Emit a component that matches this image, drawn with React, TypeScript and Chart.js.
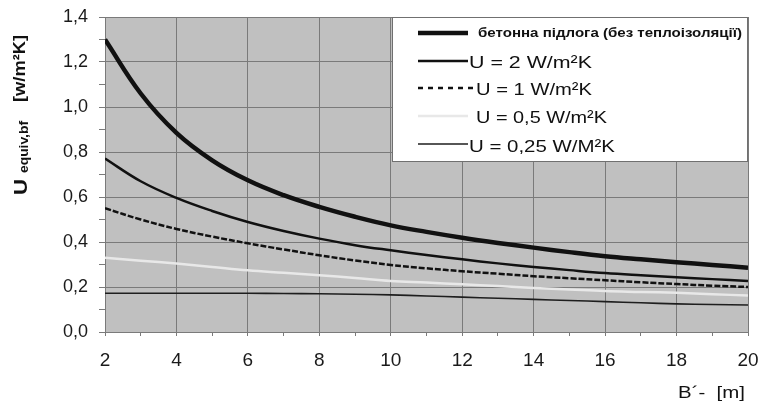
import React, { useEffect, useRef } from "react";
import { Chart, registerables } from "chart.js";

Chart.register(...registerables);

const B = [2, 3, 4, 5, 6, 7, 8, 9, 10, 11, 12, 13, 14, 15, 16, 17, 18, 19, 20];
const concrete = [1.3, 1.06, 0.885, 0.763, 0.674, 0.608, 0.556, 0.512, 0.474, 0.445, 0.419, 0.396, 0.375, 0.355, 0.337, 0.323, 0.31, 0.298, 0.286];
const u2 = [0.771, 0.67, 0.596, 0.538, 0.489, 0.449, 0.415, 0.386, 0.363, 0.342, 0.323, 0.305, 0.289, 0.275, 0.262, 0.252, 0.243, 0.235, 0.227];
const u1 = [0.55, 0.5, 0.458, 0.424, 0.394, 0.367, 0.341, 0.318, 0.298, 0.283, 0.27, 0.259, 0.248, 0.239, 0.23, 0.221, 0.213, 0.206, 0.2];
const u05 = [0.33, 0.317, 0.304, 0.289, 0.274, 0.263, 0.252, 0.24, 0.227, 0.22, 0.212, 0.204, 0.196, 0.189, 0.182, 0.178, 0.174, 0.168, 0.162];
const u025 = [0.172, 0.172, 0.172, 0.172, 0.172, 0.171, 0.17, 0.168, 0.165, 0.16, 0.155, 0.15, 0.145, 0.14, 0.135, 0.13, 0.125, 0.122, 0.12];

const seriesLabels = [
  "бетонна підлога (без теплоізоляції)",
  "U = 2 W/m²K",
  "U = 1 W/m²K",
  "U = 0,5 W/m²K",
  "U = 0,25 W/M²K",
];
const yTitleMain = "U";
const yTitleSub = "equiv,bf";
const yTitleUnit = "[w/m²K]";
const xTitle = "B´-  [m]";

const GRID = "#7a7a7a";
const FONT = "'Liberation Sans', Arial, sans-serif";

function fitText(ctx: CanvasRenderingContext2D, text: string, x: number, y: number, width: number) {
  const w = ctx.measureText(text).width || 1;
  ctx.save();
  ctx.translate(x, y);
  ctx.scale(width / w, 1);
  ctx.fillText(text, 0, 0);
  ctx.restore();
}

const decorPlugin = {
  id: "decor",
  beforeDraw(chart: any) {
    const { ctx, chartArea } = chart;
    ctx.save();
    ctx.fillStyle = "#c0c0c0";
    ctx.fillRect(chartArea.left, chartArea.top, chartArea.right - chartArea.left, chartArea.bottom - chartArea.top);
    ctx.restore();
  },
  afterDraw(chart: any) {
    const ctx: CanvasRenderingContext2D = chart.ctx;
    const ds = chart.data.datasets;
    const ca = chart.chartArea;
    ctx.save();
    const lx = 392;
    const lt = ca.top;
    const lr = ca.right;
    ctx.fillStyle = "#ffffff";
    ctx.fillRect(lx, lt, lr - lx, 145);
    ctx.strokeStyle = "#707070";
    ctx.lineWidth = 1;
    ctx.strokeRect(lx + 0.5, lt + 0.5, lr - lx - 1, 144);

    const rows = [
      { ly: 33, ty: 37, tx: 478, tw: 264, font: `bold 13px ${FONT}` },
      { ly: 61, ty: 68, tx: 469, tw: 123, font: `17px ${FONT}` },
      { ly: 88, ty: 95, tx: 476, tw: 116, font: `17px ${FONT}` },
      { ly: 116, ty: 123, tx: 476, tw: 131, font: `17px ${FONT}` },
      { ly: 144, ty: 152, tx: 469, tw: 146, font: `17px ${FONT}` },
    ];
    const legendDash = [[], [], [5, 5], [], []];
    rows.forEach((r, i) => {
      const d = ds[i];
      ctx.beginPath();
      ctx.strokeStyle = d.borderColor;
      ctx.lineWidth = d.borderWidth;
      ctx.setLineDash(legendDash[i]);
      ctx.moveTo(418, r.ly);
      ctx.lineTo(i === 2 ? 473 : 468, r.ly);
      ctx.stroke();
      ctx.setLineDash([]);
      ctx.fillStyle = "#111111";
      ctx.font = r.font;
      ctx.textBaseline = "alphabetic";
      ctx.textAlign = "left";
      fitText(ctx, seriesLabels[i], r.tx, r.ty, r.tw);
    });

    ctx.save();
    ctx.translate(27, 195);
    ctx.rotate(-Math.PI / 2);
    ctx.fillStyle = "#111111";
    ctx.font = `bold 18px ${FONT}`;
    fitText(ctx, yTitleMain, 0, 0, 16);
    ctx.font = `bold 12px ${FONT}`;
    fitText(ctx, yTitleSub, 22, 1, 52);
    ctx.font = `bold 17px ${FONT}`;
    fitText(ctx, yTitleUnit, 93, -2, 67);
    ctx.restore();

    ctx.fillStyle = "#111111";
    ctx.font = `17px ${FONT}`;
    fitText(ctx, xTitle, 678, 398, 67);
    ctx.restore();
  },
};

export default function App() {
  const ref = useRef<HTMLCanvasElement | null>(null);
  useEffect(() => {
    document.body.style.margin = "0";
    if (!ref.current) return;
    const mk = (arr: number[]) => B.map((x, i) => ({ x, y: arr[i] }));
    const common = { pointRadius: 0, tension: 0.4 };
    const chart = new Chart(ref.current, {
      type: "line",
      data: {
        datasets: [
          { label: seriesLabels[0], data: mk(concrete), borderColor: "#111111", borderWidth: 4.5, ...common },
          { label: seriesLabels[1], data: mk(u2), borderColor: "#111111", borderWidth: 2.5, ...common },
          { label: seriesLabels[2], data: mk(u1), borderColor: "#111111", borderWidth: 2.5, borderDash: [6, 2], ...common },
          { label: seriesLabels[3], data: mk(u05), borderColor: "#e8e8e8", borderWidth: 2.5, ...common },
          { label: seriesLabels[4], data: mk(u025), borderColor: "#1e1e1e", borderWidth: 1.6, ...common },
        ] as any,
      },
      options: {
        animation: false,
        responsive: false,
        devicePixelRatio: 1,
        layout: { padding: { top: 17, right: 11, left: 0, bottom: 0 } },
        plugins: { legend: { display: false }, tooltip: { enabled: false } },
        scales: {
          x: {
            type: "linear",
            min: 2,
            max: 20,
            afterFit: (s: any) => { s.height = 76; s.paddingLeft = 0; s.paddingRight = 0; },
            ticks: {
              stepSize: 1,
              autoSkip: false,
              maxRotation: 0,
              padding: 13,
              color: "#1a1a1a",
              font: { family: FONT, size: 19 },
              callback: (v: any) => (Math.round(v) % 2 === 0 ? String(Math.round(v)) : ""),
            },
            grid: {
              color: (c: any) => (c.tick && Math.round(c.tick.value) % 2 === 0 ? GRID : "rgba(0,0,0,0)"),
              tickColor: GRID,
              tickLength: 4,
            },
            border: { display: true, color: GRID },
          },
          y: {
            min: 0,
            max: 1.4,
            afterFit: (s: any) => { s.width = 105; s.paddingTop = 0; s.paddingBottom = 0; },
            ticks: {
              stepSize: 0.1,
              autoSkip: false,
              padding: 11,
              color: "#1a1a1a",
              font: { family: FONT, size: 18 },
              callback: (v: any) => {
                const k = Math.round(v * 10);
                return k % 2 === 0 ? (k / 10).toFixed(1).replace(".", ",") : "";
              },
            },
            grid: {
              color: (c: any) => (c.tick && Math.round(c.tick.value * 10) % 2 === 0 ? GRID : "rgba(0,0,0,0)"),
              tickColor: GRID,
              tickLength: 6,
            },
            border: { display: true, color: GRID },
          },
        },
      } as any,
      plugins: [decorPlugin as any],
    });
    return () => chart.destroy();
  }, []);
  return (
    <div style={{ width: 759, height: 408 }}>
      <canvas ref={ref} width={759} height={408} style={{ width: 759, height: 408, display: "block" }} />
    </div>
  );
}
